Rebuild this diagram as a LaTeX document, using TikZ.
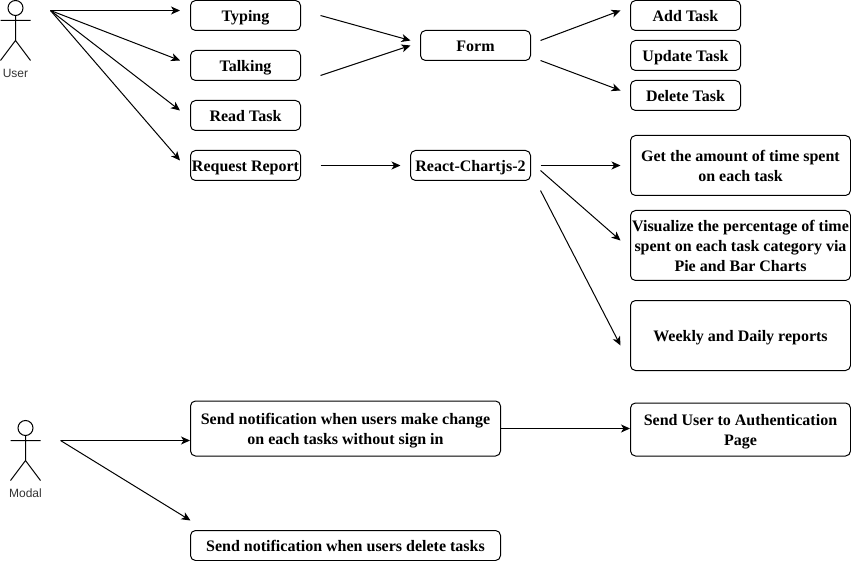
\documentclass[tikz,border=0pt]{standalone}
\usepackage{fontspec}
\setmainfont{Liberation Serif}
\newfontfamily\actorfont{Liberation Sans}
\usetikzlibrary{arrows.meta}
\definecolor{labelgray}{HTML}{333333}
\newcommand{\boxtext}[1]{\rule{0pt}{16pt}#1\rule[-4pt]{0pt}{0pt}}
\tikzset{
  x=1pt,y=-1pt,
  box/.style={draw=black,line width=1pt,rounded corners=5pt,fill=white,minimum width=#1,inner sep=0pt,align=center,font=\fontsize{16}{20}\selectfont\bfseries},
  link/.style={draw=black,line width=1pt,-{Stealth[length=9pt,width=8pt,inset=2.5pt]}},
  actorline/.style={draw=black,line width=1pt},
  actorlabel/.style={font=\actorfont\fontsize{12}{14}\selectfont,text=labelgray,inner sep=0pt},
}
\begin{document}
\begin{tikzpicture}
\useasboundingbox (0,0) rectangle (851,561);
% boxes
\node[box=110pt,minimum height=30pt] (typing) at (245.5,15.5) {\boxtext{Typing}};
\node[box=110pt,minimum height=30pt] (talking) at (245.5,65.5) {\boxtext{Talking}};
\node[box=110pt,minimum height=30pt] (read) at (245.5,115.5) {\boxtext{Read Task}};
\node[box=110pt,minimum height=30pt] (request) at (245.5,165.5) {\boxtext{Request Report}};
\node[box=110pt,minimum height=30pt] (form) at (475.5,45.5) {\boxtext{Form}};
\node[box=120pt,minimum height=30pt] (chart) at (470.5,165.5) {\boxtext{React-Chartjs-2}};
\node[box=110pt,minimum height=30pt] (add) at (685.5,15.5) {\boxtext{Add Task}};
\node[box=110pt,minimum height=30pt] (update) at (685.5,55.5) {\boxtext{Update Task}};
\node[box=110pt,minimum height=30pt] (delete) at (685.5,95.5) {\boxtext{Delete Task}};
\node[box=220pt,minimum height=60pt] (amount) at (740.5,165.5) {\boxtext{Get the amount of time spent\\on each task}};
\node[box=220pt,minimum height=70pt] (visual) at (740.5,245.5) {\boxtext{Visualize the percentage of time\\spent on each task category via\\Pie and Bar Charts}};
\node[box=220pt,minimum height=70pt] (weekly) at (740.5,335.5) {\boxtext{Weekly and Daily reports}};
\node[box=310pt,minimum height=55pt] (change) at (345.5,428.5) {\boxtext{Send notification when users make change\\on each tasks without sign in}};
\node[box=220pt,minimum height=53pt] (auth) at (740.5,429.5) {\boxtext{Send User to Authentication\\Page}};
\node[box=310pt,minimum height=30pt] (remove) at (345.5,545.5) {\boxtext{Send notification when users delete tasks}};
% actors
\node[actorlabel] (userlabel) at (15.5,73.5) {User};
\node[actorlabel] (modallabel) at (25.5,493.5) {Modal};
\draw[actorline] (15.5,8) circle (7.5);
\draw[actorline] (15.5,15.5) -- (15.5,40.5) (0.5,20.5) -- (30.5,20.5) (0.5,60.5) -- (15.5,40.5) -- (30.5,60.5);
\draw[actorline] (25.5,428) circle (7.5);
\draw[actorline] (25.5,435.5) -- (25.5,460.5) (10.5,440.5) -- (40.5,440.5) (10.5,480.5) -- (25.5,460.5) -- (40.5,480.5);
% ports
\coordinate (userport) at (50.5,10.5);
\coordinate (modalport) at (60.5,440.5);
\coordinate (typingin) at ([shift={(-10,-5)}]typing.west);
\coordinate (talkingin) at ([shift={(-10,-5)}]talking.west);
\coordinate (readin) at ([shift={(-10,-5)}]read.west);
\coordinate (requestin) at ([shift={(-10,-5)}]request.west);
\coordinate (typingout) at (320.5,15.5);
\coordinate (talkingout) at (320.5,75.5);
\coordinate (requestout) at (320.5,165.5);
\coordinate (formina) at (410.5,40.5);
\coordinate (forminb) at (410.5,45.5);
\coordinate (chartin) at (400.5,165.5);
\coordinate (formouta) at (540.5,40.5);
\coordinate (formoutb) at (540.5,60.5);
\coordinate (addin) at (620.5,10.5);
\coordinate (deletein) at (620.5,90.5);
\coordinate (chartouta) at (540.5,165.5);
\coordinate (chartoutb) at (540.5,170.5);
\coordinate (chartoutc) at (540.5,190.5);
\coordinate (amountin) at (620.5,165.5);
\coordinate (visualin) at (620.5,240.5);
\coordinate (weeklyin) at (620.5,345.5);
\coordinate (removein) at (190.5,520.5);
% connectors
\draw[link] (userport) -- (typingin);
\draw[link] (userport) -- (talkingin);
\draw[link] (userport) -- (readin);
\draw[link] (userport) -- (requestin);
\draw[link] (typingout) -- (formina);
\draw[link] (talkingout) -- (forminb);
\draw[link] (requestout) -- (chartin);
\draw[link] (formouta) -- (addin);
\draw[link] (formoutb) -- (deletein);
\draw[link] (chartouta) -- (amountin);
\draw[link] (chartoutb) -- (visualin);
\draw[link] (chartoutc) -- (weeklyin);
\draw[link] (modalport) -- (modalport -| change.west);
\draw[link] (modalport) -- (removein);
\draw[link] (change.east) -- (auth.west |- change.east);
\end{tikzpicture}
\end{document}
